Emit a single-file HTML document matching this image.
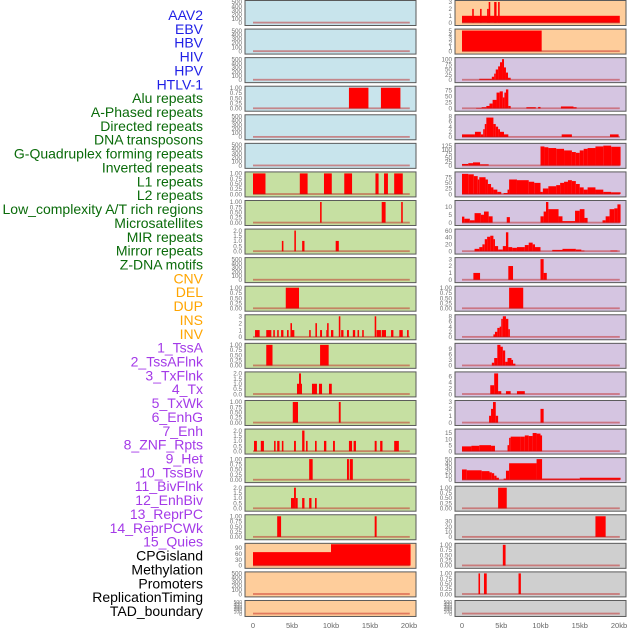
<!DOCTYPE html>
<html><head><meta charset="utf-8"><style>
html,body{margin:0;padding:0;background:#fff;}
svg{display:block;font-family:"Liberation Sans",sans-serif;}
</style></head><body>
<svg id="chart" width="630" height="630" viewBox="0 0 630 630" xmlns="http://www.w3.org/2000/svg">
<g id="labels"></g>
<g id="panels"></g>
<g id="xaxes"></g>
</svg>
<script>
const labelNames = ["AAV2","EBV","HBV","HIV","HPV","HTLV-1","Alu repeats","A-Phased repeats","Directed repeats","DNA transposons","G-Quadruplex forming repeats","Inverted repeats","L1 repeats","L2 repeats","Low_complexity A/T rich regions","Microsatellites","MIR repeats","Mirror repeats","Z-DNA motifs","CNV","DEL","DUP","INS","INV","1_TssA","2_TssAFlnk","3_TxFlnk","4_Tx","5_TxWk","6_EnhG","7_Enh","8_ZNF_Rpts","9_Het","10_TssBiv","11_BivFlnk","12_EnhBiv","13_ReprPC","14_ReprPCWk","15_Quies","CPGisland","Methylation","Promoters","ReplicationTiming","TAD_boundary"];
const labelGroups = [6,13,5,15,5];
const xTickLabels = ["0","5kb","10kb","15kb","20kb"];
const xTickValues = [0,5,10,15,20];

const t500=[0,100,200,300,400,500];
const t1=["0.00","0.25","0.50","0.75","1.00"];
const t2=["0.0","0.5","1.0","1.5","2.0"];
const t3=[0,1,2,3];

// Left column segments [startKb, endKb, value]
const L_alu=[[12.3,14.8,1],[16.4,18.9,1]];
const L_l1=[[0,1.6,1],[6.0,7.0,1],[9.1,10.1,1],[11.7,12.7,1],[15.7,16.1,1],[16.8,17.3,1],[18.1,19.2,1]];
const L_l2=[[8.6,8.8,1],[16.5,17.0,1],[19.0,19.2,1]];
const L_mir=[[3.7,3.9,1],[5.3,5.5,2],[6.3,6.6,1],[10.6,11.0,1]];
const L_dup=[[4.2,5.9,1]];
const L_ins=[[0.26,0.85,1],[1.7,2.35,1],[2.6,2.8,1],[3.1,3.3,1],[3.6,3.9,1],[4.36,4.57,1],[4.8,5.0,2],[5.0,5.3,1],[7.2,7.4,1],[8.0,8.2,2],[8.6,8.85,1],[9.4,9.5,1],[9.5,9.7,2],[10.0,10.3,1],[11.0,11.2,3],[11.3,11.6,1],[12.05,12.3,1],[12.8,13.1,1],[13.4,13.6,1],[14.0,14.2,1],[15.6,15.8,3],[15.85,16.4,1],[16.5,17.05,1],[17.7,18.0,1],[18.76,19.2,1],[19.75,19.96,1]];
const L_inv=[[1.7,2.5,1],[8.6,9.7,1]];
const L_tssa=[[5.64,5.9,1],[5.9,6.15,2],[6.15,6.24,1],[7.56,8.2,1],[8.46,8.85,1],[9.74,10.1,1]];
const L_tssaf=[[5.1,5.77,1],[11.0,11.24,1]];
const L_txflnk=[[0.13,0.5,1],[1.0,1.4,1],[2.7,2.9,1],[3.1,3.4,1],[3.7,3.9,1],[5.26,5.5,1],[6.3,6.6,2],[6.8,7.0,1],[7.95,8.16,1],[9.1,9.4,1],[10.26,10.5,1],[12.3,12.7,1],[12.9,13.2,1],[15.6,15.85,1],[16.3,16.6,1],[18.1,18.7,1]];
const L_tx=[[7.2,7.65,1],[12.05,12.3,1],[12.4,12.8,1]];
const L_txwk=[[4.87,5.26,1],[5.26,5.5,2],[5.5,5.73,1],[6.3,6.6,1],[7.2,7.5,1],[7.95,8.16,1]];
const L_enhg=[[3.1,3.6,1],[15.6,15.85,1]];
const L_cpg=[[0,10,68],[10,20.2,108]];

// Right column segments
const R_aav=[[0,20.1,1],[1.3,1.5,2],[2.3,2.5,2],[3.2,3.4,2],[3.4,3.6,3],[4.1,4.4,3],[4.6,4.8,3]];
const R_ebv=[[0,10.15,5]];
const R_hiv=[[2.2,3.5,5],[3.5,3.8,5],[3.8,4.1,15],[4.1,4.3,30],[4.3,4.6,50],[4.6,4.84,65],[4.84,5.1,85],[5.1,5.35,100],[5.35,5.6,60],[5.6,5.86,35],[5.86,6.2,10]];
const R_hpv=[[1.8,2.5,2],[2.5,3.1,5],[3.1,3.5,10],[3.5,3.9,20],[3.9,4.4,35],[4.4,4.8,65],[4.8,5.2,70],[5.2,5.4,45],[5.4,5.6,65],[5.6,5.9,78],[5.9,6.2,10],[8.2,9.4,5],[9.7,10.0,6],[12.6,14.2,8],[14.2,14.6,5]];
const R_htlv=[[0,1.65,1],[1.65,2.4,2],[2.4,2.7,1],[2.7,2.9,3],[2.9,3.1,5],[3.1,4.0,7.5],[4.0,4.3,5],[4.3,4.6,4],[4.6,4.84,3],[4.84,5.35,2],[5.35,5.9,1],[12.7,14.0,1],[18.85,19.95,1]];
const R_alu=[[0,0.8,10],[0.8,1.4,15],[1.4,2.3,20],[2.3,3.4,8],[10,10.5,120],[10.5,11,115],[11,12,110],[12,13,105],[13,14,95],[14,14.5,85],[14.5,15,80],[15,15.5,95],[15.5,16,105],[16,17,110],[17,18,120],[18,19,125],[19,20.2,118]];
const R_aph=[[0,0.8,90],[0.8,1.5,88],[1.5,2,80],[2,2.2,65],[2.2,3,75],[3,3.3,65],[3.3,3.7,45],[3.7,4,30],[4,4.5,20],[4.5,5,10],[5.3,5.8,5],[5.8,6,20],[6,7,65],[7,8.5,62],[8.5,9.2,55],[9.2,10,50],[10,10.3,10],[10.3,11,25],[11,12,35],[12,12.5,40],[12.5,13,50],[13,13.5,55],[13.5,14,62],[14,14.5,58],[14.5,15,45],[15,15.5,30],[15.5,16,20],[16,17,30],[17,18,20],[18,19,10],[19,20.2,8]];
const R_dir=[[0,0.3,3.8],[0.3,1,2.5],[1,1.6,1.5],[1.6,2.4,6],[2.4,2.8,5],[2.8,3.4,7],[3.4,3.9,4],[5.7,6.1,3.5],[10,10.4,4],[10.4,10.7,7],[10.7,11,13],[11,12.3,8.5],[12.3,12.8,4],[12.8,14.4,1],[14.4,15,7.5],[15,15.6,8.5],[15.6,16,3],[17.9,18.3,1.5],[18.3,18.8,4],[18.8,19.4,8.5],[19.4,19.8,9],[19.8,20.2,11.5]];
const R_dna=[[1.6,2.2,7],[2.2,2.6,12],[2.6,2.9,20],[2.9,3.2,35],[3.2,3.6,42],[3.6,4.0,45],[4.0,4.2,35],[4.2,4.6,15],[4.6,5.2,5],[5.2,5.6,15],[5.6,5.9,55],[5.9,6.4,12],[6.4,7.0,10],[7.0,8.0,12],[8.0,8.5,18],[8.5,9.0,25],[9.0,9.3,20],[9.3,10,12],[11.5,12.8,4],[12.8,14.5,7],[14.5,15.2,5],[15.2,15.6,2],[18.9,19.8,2]];
const R_gq=[[1.45,2.3,1],[5.9,6.5,2],[10.0,10.4,3],[10.4,10.8,1]];
const R_inv=[[6.0,7.8,1]];
const R_l1=[[4.0,4.2,1],[4.2,4.5,2],[4.5,4.8,3.5],[4.8,5.0,4],[5.0,5.2,7],[5.2,5.6,8],[5.6,5.9,7],[5.9,6.1,3]];
const R_l2=[[3.8,4.1,1.5],[4.1,4.5,4],[4.5,4.9,11],[4.9,5.2,10],[5.2,5.5,8],[5.5,5.8,2],[5.8,6.3,4],[6.3,6.5,3],[6.5,6.8,1]];
const R_low=[[3.6,4.1,3],[4.1,4.6,7],[4.6,5.0,1],[5.6,6.2,1],[7.0,8.0,1]];
const R_micro=[[3.45,3.7,1],[3.7,3.95,2],[3.95,4.3,3],[4.3,4.6,1],[10.0,10.4,2]];
const R_mir=[[0,1.2,4],[1.2,2.2,4.5],[2.2,3.7,5],[3.7,4.2,4.5],[5.8,6.0,5],[6.0,6.2,11],[6.2,7.5,12],[7.5,8.0,12],[8.0,8.5,13],[8.5,9,12.5],[9,9.5,15],[9.5,10,14.5],[10,10.2,13]];
const R_mirror=[[0,0.6,25],[0.6,2.5,23],[2.5,3.5,21],[3.5,3.8,18],[3.8,4.1,16],[4.1,4.4,10],[4.4,4.7,5],[5.3,5.6,3],[5.6,6.0,22],[6.0,9.5,40],[9.5,10.2,50],[10.2,15,3],[15,20.2,5]];
const R_zdna=[[4.6,5.7,1]];
const R_cnv=[[17.0,18.3,40]];
const R_del=[[5.2,5.55,1]];
const R_dupr=[[2.1,2.3,1],[2.8,3.15,1],[7.2,7.5,1]];

const BLUE="#c8e4ec", GREEN="#c6e0a2", ORANGE="#fecd9b", PURPLE="#d5c5e1", GREY="#cfcfcf";
const leftPanels=[
 ["aav2",BLUE,t500,500,[]],["ebv",BLUE,t500,500,[]],["hbv",BLUE,t500,500,[]],
 ["alu",BLUE,t1,1,L_alu],["hpv",BLUE,t500,500,[]],["htlv",BLUE,t500,500,[]],
 ["l1",GREEN,t1,1,L_l1],["l2",GREEN,t1,1,L_l2],["mir",GREEN,t2,2,L_mir],
 ["mirror",GREEN,t500,500,[]],["dup",GREEN,t1,1,L_dup],["ins",GREEN,t3,3,L_ins],
 ["inv",GREEN,t1,1,L_inv],["tssa",GREEN,t2,2,L_tssa],["tssaflnk",GREEN,t1,1,L_tssaf],
 ["txflnk",GREEN,t2,2,L_txflnk],["tx",GREEN,t1,1,L_tx],["txwk",GREEN,t2,2,L_txwk],
 ["enhg",GREEN,t1,1,L_enhg],["cpgisland",ORANGE,[0,30,60,90],105,L_cpg],
 ["promoters",ORANGE,t500,500,[]],["tad",ORANGE,t500,500,[]]
];
const rightPanels=[
 ["aav2",ORANGE,t3,3,R_aav],["ebv",ORANGE,[0,1,2,3,4,5],5,R_ebv],["hiv",PURPLE,[0,25,50,75,100],100,R_hiv],
 ["hpv",PURPLE,[0,25,50,75],85,R_hpv],["htlv",PURPLE,[0,2,4,6,8],8,R_htlv],["alu",PURPLE,[0,25,50,75,100,125],130,R_alu],
 ["aphased",PURPLE,[0,25,50,75],92,R_aph],["directed",PURPLE,[0,5,10],13,R_dir],["dna",PURPLE,[0,20,40,60],60,R_dna],
 ["gquad",PURPLE,t3,3,R_gq],["inverted",PURPLE,t1,1,R_inv],["l1",PURPLE,[0,2,4,6,8],8,R_l1],
 ["l2",PURPLE,[0,3,6,9],11,R_l2],["lowcomplex",PURPLE,[0,2,4,6],7,R_low],["micro",PURPLE,t3,3,R_micro],
 ["mir",PURPLE,[0,5,10,15],17,R_mir],["mirror",PURPLE,[0,10,20,30,40,50],50,R_mirror],["zdna",GREY,t1,1,R_zdna],
 ["cnv",GREY,[0,10,20,30],40,R_cnv],["del",GREY,t1,1,R_del],["dup",GREY,t1,1,R_dupr],["tad",GREY,t500,500,[]]
];

const NS="http://www.w3.org/2000/svg";
function mk(tag,attrs,parent){const e=document.createElementNS(NS,tag);for(const k in attrs)e.setAttribute(k,attrs[k]);parent.appendChild(e);return e;}

const labG=document.getElementById('labels');
const groupColors=["#1f1fe6","#0a6b0a","#ffa500","#a43ae8","#000000"];
let gi=0,gc=0;
labelNames.forEach((n,i)=>{
  while(gc>=labelGroups[gi]){gi++;gc=0;}
  gc++;
  const t=mk('text',{x:203,y:15+i*13.86+5,'text-anchor':'end','font-size':'14',fill:groupColors[gi]},labG);
  t.textContent=n;
  
  
});

const panG=document.getElementById('panels');
function drawPanel(p,row,col){
  const [name,bg,ticks,max,data]=p;
  const bx=col?455:245, bw=171;
  const x0=col?462:253, kb=col?7.85:7.8;
  const top=row*28.57, h=row===21?16:25;
  const base=top+h-2.3, span=h-4.3;
  const xs=v=>x0+v*kb, ys=v=>base-Math.min(v/max,1.08)*span;
  const g=mk('g',{},panG);
  
  
  const r=mk('rect',{x:bx,y:top+0.5,width:bw,height:h,fill:bg,stroke:'#5a5a5a','stroke-width':1},g);
  
  
  ticks.forEach(tv=>{
    const num=typeof tv==='string'?parseFloat(tv):tv;
    const t=mk('text',{x:bx-3,y:ys(num)+2.2,'text-anchor':'end','font-size':row===21?'5':'6.3',fill:'#707070'},g);
    t.textContent=tv;
    
    
  });
  data.forEach(d=>{
    const y=Math.max(ys(d[2]),top+1);
    const b=mk('rect',{x:xs(d[0]),y:y,width:Math.max(xs(d[1])-xs(d[0]),1),height:base-y,fill:'#ff0000'},g);
    
    
  });
  const bl=mk('rect',{x:xs(0),y:base-1,width:xs(20.1)-xs(0),height:1.8,fill:'rgba(190,20,20,0.45)'},g);
  
  
}
leftPanels.forEach((p,i)=>drawPanel(p,i,0));
rightPanels.forEach((p,i)=>drawPanel(p,i,1));

const xg=document.getElementById('xaxes');
[0,1].forEach(col=>{
  const x0=col?462:253, kb=col?7.85:7.8;
  xTickValues.forEach((v,i)=>{
    const t=mk('text',{x:x0+v*kb,y:628,'text-anchor':'middle','font-size':'7.5',fill:'#666'},xg);
    t.textContent=xTickLabels[i];
    
    
  });
});
</script>
</body></html>
